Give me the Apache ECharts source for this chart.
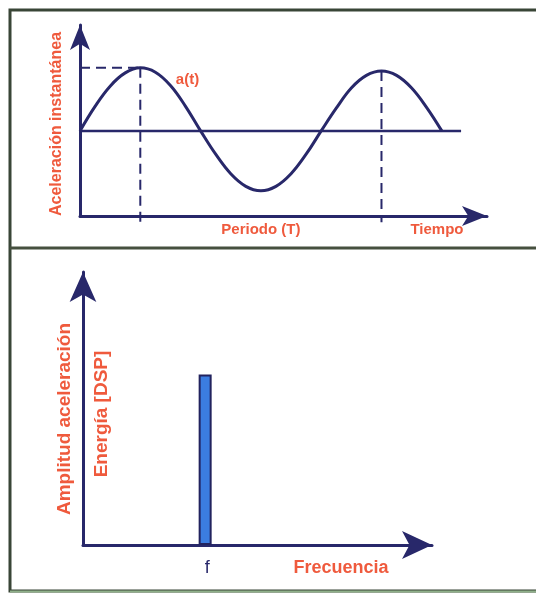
<!DOCTYPE html>
<html>
<head>
<meta charset="utf-8">
<script src="https://cdn.jsdelivr.net/npm/echarts@6/dist/echarts.min.js"></script>
<style>
html,body{margin:0;padding:0;background:#ffffff;}
#c{width:536px;height:593px;}
</style>
</head>
<body>
<div id="c"></div>
<script>
// time in quarter-periods, acceleration normalised to first peak
const timeSamples = [0,0.25,0.5,0.75,1,1.25,1.5,1.75,2,2.25,2.5,2.75,3,3.25,3.5,3.75,4,4.25,4.5,4.75,5,5.25,5.5,5.75,6];
const accelValues = [0,0.39,0.71,0.92,1.0,0.93,0.72,0.39,0,-0.37,-0.68,-0.88,-0.95,-0.88,-0.68,-0.37,0,0.36,0.68,0.88,0.95,0.88,0.68,0.37,0];
const baselineTime = [0, 6.32];
const peakTimes = [1, 5];
const peakValues = [1.0, 0.95];
const freqValue = [3.5];
const ampValue = [1.0];

const NAVY = '#28286a';
const RED = '#ef5a3d';
const FONT = '"Liberation Sans", Arial, sans-serif';

const chart = echarts.init(document.getElementById('c'));

const sineData = timeSamples.map((t, i) => [t, accelValues[i]]);
const yBottomTop = -1.35;

const dashed = [];
dashed.push({type:'line', xAxisIndex:0, yAxisIndex:0, clip:false, symbol:'none', silent:true,
  lineStyle:{color:NAVY, width:2, type:[10,6]}, data:[[0, peakValues[0]],[peakTimes[0], peakValues[0]]]});
peakTimes.forEach((t, i) => {
  dashed.push({type:'line', xAxisIndex:0, yAxisIndex:0, clip:false, symbol:'none', silent:true,
    lineStyle:{color:NAVY, width:2, type:[10,6]}, data:[[t, peakValues[i]],[t, -1.45]]});
});

const axisCommon = (arrowSize, off) => ({
  axisLine:{show:true, onZero:false, symbol:['none','arrow'], symbolSize:arrowSize, symbolOffset:[0, off],
    lineStyle:{color:NAVY, width:3}},
  axisTick:{show:false}, axisLabel:{show:false}, splitLine:{show:false}
});

chart.setOption({
  animation:false,
  grid:[
    {left:80, top:25, width:407, height:191},
    {left:83, top:272, width:349, height:273}
  ],
  xAxis:[
    Object.assign({type:'value', gridIndex:0, min:0, max:6.75}, axisCommon([15,25], 0)),
    Object.assign({type:'value', gridIndex:1, min:0, max:10}, axisCommon([21,30], 0))
  ],
  yAxis:[
    Object.assign({type:'value', gridIndex:0, min:yBottomTop, max:1.68}, axisCommon([15,25], 0)),
    Object.assign({type:'value', gridIndex:1, min:0, max:1.6}, axisCommon([20,30], 0))
  ],
  series:[
    {type:'line', xAxisIndex:0, yAxisIndex:0, symbol:'none', silent:true,
      lineStyle:{color:NAVY, width:2.5}, data: baselineTime.map(t => [t, 0])},
    {type:'line', xAxisIndex:0, yAxisIndex:0, symbol:'none', smooth:0.4, silent:true,
      lineStyle:{color:NAVY, width:3}, data: sineData},
    ...dashed,
    {type:'bar', xAxisIndex:1, yAxisIndex:1, barWidth:13, silent:true,
      itemStyle:{color:'#3b7de0', borderColor:'#22235e', borderWidth:2},
      data: freqValue.map((f, i) => [f, ampValue[i]])}
  ]
});

const p0 = (x, y) => chart.convertToPixel({gridIndex:0}, [x, y]);
const p1 = (x, y) => chart.convertToPixel({gridIndex:1}, [x, y]);
const axisY0 = p0(0, yBottomTop)[1];
const axisY1 = p1(0, 0)[1];

function txt(x, y, s, opts) {
  return Object.assign({type:'text', x:x, y:y, silent:true,
    style:Object.assign({text:s, fill:RED, font:'bold 15px ' + FONT, align:'center', verticalAlign:'middle'}, opts && opts.style || {})},
    opts && opts.rotation ? {rotation:opts.rotation} : {});
}

chart.setOption({
  graphic:[
    {type:'rect', shape:{x:10, y:10, width:600, height:581}, silent:true, z:-1,
      style:{fill:'none', stroke:'#394536', lineWidth:3}},
    {type:'line', shape:{x1:10, y1:248, x2:536, y2:248}, silent:true,
      style:{stroke:'#46503f', lineWidth:3}},
    {type:'line', shape:{x1:10, y1:591.5, x2:536, y2:591.5}, silent:true,
      style:{stroke:'#8fb08a', lineWidth:2}},
    txt(p0(1.59, 0)[0], p0(0, 0.81)[1], 'a(t)', {style:{align:'left'}}),
    txt(p0((peakTimes[0] + peakTimes[1]) / 2, 0)[0], axisY0 + 14, 'Periodo (T)'),
    txt(p0(5.92, 0)[0], axisY0 + 14, 'Tiempo'),
    txt(57, 124, 'Aceleración instantánea', {rotation:Math.PI/2, style:{font:'bold 16px ' + FONT}}),
    txt(p1(freqValue[0], 0)[0] + 2, axisY1 + 23, 'f', {style:{fill:NAVY, font:'18px ' + FONT}}),
    txt(p1(7.39, 0)[0], axisY1 + 23, 'Frecuencia', {style:{font:'bold 18px ' + FONT}}),
    txt(65, 419, 'Amplitud aceleración', {rotation:Math.PI/2, style:{font:'bold 19px ' + FONT}}),
    txt(102, 414, 'Energía [DSP]', {rotation:Math.PI/2, style:{font:'bold 19px ' + FONT}})
  ]
});
</script>
</body>
</html>
